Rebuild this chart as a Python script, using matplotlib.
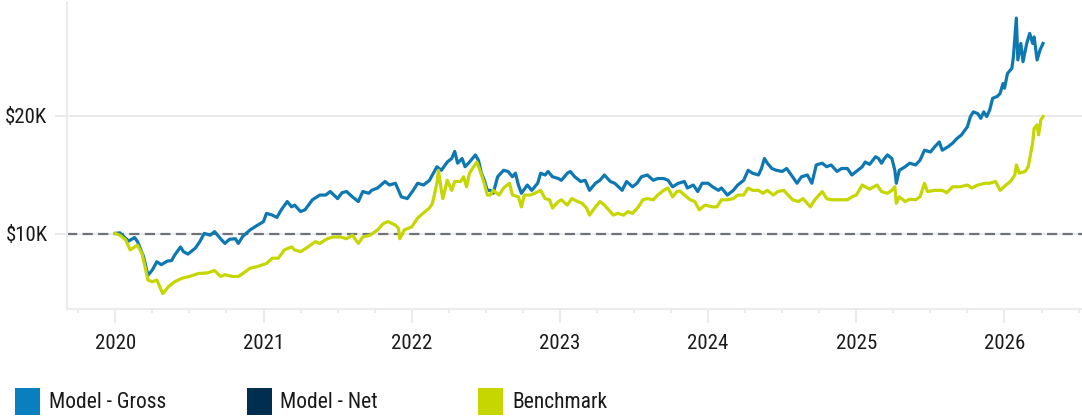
import matplotlib
matplotlib.use("Agg")
import matplotlib.pyplot as plt
from matplotlib.patches import Rectangle
import numpy as np

# ---------------- data (decimal year, value in $K) ----------------
gross_t = [2020.00, 2020.03, 2020.09, 2020.13, 2020.15, 2020.19, 2020.22, 2020.25, 2020.28, 2020.31,
           2020.35, 2020.38, 2020.40, 2020.44, 2020.46, 2020.49, 2020.54, 2020.57, 2020.60, 2020.64,
           2020.67, 2020.71, 2020.74, 2020.77, 2020.81, 2020.83, 2020.86, 2020.91, 2020.96, 2021.00,
           2021.02, 2021.06, 2021.09, 2021.12, 2021.16, 2021.19, 2021.21, 2021.25, 2021.28, 2021.33,
           2021.38, 2021.42, 2021.45, 2021.50, 2021.53, 2021.56, 2021.60, 2021.64, 2021.67, 2021.71,
           2021.73, 2021.77, 2021.82, 2021.85, 2021.89, 2021.93, 2021.97, 2022.01, 2022.04, 2022.08,
           2022.12, 2022.17, 2022.20, 2022.24, 2022.27, 2022.29, 2022.31, 2022.34, 2022.36, 2022.39,
           2022.43, 2022.45, 2022.47, 2022.49, 2022.51, 2022.53, 2022.55, 2022.58, 2022.62, 2022.65,
           2022.68, 2022.70, 2022.72, 2022.74, 2022.78, 2022.81, 2022.85, 2022.87, 2022.90, 2022.92,
           2022.95, 2022.99, 2023.01, 2023.05, 2023.07, 2023.10, 2023.14, 2023.17, 2023.20, 2023.24,
           2023.27, 2023.30, 2023.34, 2023.37, 2023.42, 2023.45, 2023.49, 2023.52, 2023.55, 2023.59,
           2023.63, 2023.66, 2023.70, 2023.73, 2023.76, 2023.80, 2023.84, 2023.86, 2023.90, 2023.93,
           2023.96, 2024.00, 2024.03, 2024.07, 2024.09, 2024.13, 2024.17, 2024.20, 2024.24, 2024.27,
           2024.30, 2024.34, 2024.36, 2024.38, 2024.40, 2024.43, 2024.46, 2024.50, 2024.53, 2024.57,
           2024.60, 2024.63, 2024.67, 2024.70, 2024.73, 2024.77, 2024.80, 2024.83, 2024.87, 2024.90,
           2024.94, 2024.97, 2025.00, 2025.04, 2025.06, 2025.09, 2025.13, 2025.15, 2025.17, 2025.19,
           2025.21, 2025.24, 2025.26, 2025.27, 2025.29, 2025.33, 2025.36, 2025.40, 2025.43, 2025.46,
           2025.50, 2025.53, 2025.56, 2025.58, 2025.62, 2025.65, 2025.68, 2025.71, 2025.75, 2025.77,
           2025.79, 2025.82, 2025.84, 2025.86, 2025.88, 2025.90, 2025.92, 2025.95, 2025.97, 2025.99,
           2026.00, 2026.02, 2026.05, 2026.06, 2026.08, 2026.09, 2026.11, 2026.125, 2026.15, 2026.17,
           2026.19, 2026.20, 2026.22, 2026.24, 2026.26]
gross_v = [10.05, 10.1, 9.4, 9.7, 9.35, 8.1, 6.5, 6.95, 7.65, 7.4,
           7.7, 7.75, 8.2, 8.9, 8.5, 8.3, 8.8, 9.35, 10.05, 9.9,
           10.2, 9.6, 9.2, 9.55, 9.6, 9.2, 9.8, 10.35, 10.75, 11.05,
           11.75, 11.6, 11.4, 12.05, 12.75, 12.3, 12.45, 11.9, 12.05, 12.9,
           13.3, 13.3, 13.6, 13.0, 13.5, 13.6, 13.15, 12.75, 13.6, 13.45,
           13.7, 13.9, 14.45, 14.15, 14.3, 13.15, 13.0, 13.7, 14.3, 14.15,
           14.55, 15.7, 15.4, 16.1, 16.4, 17.0, 16.0, 16.4, 15.7, 16.1,
           16.7, 16.25, 15.15, 14.55, 13.7, 13.7, 13.45, 14.85, 15.4, 15.3,
           14.85, 15.15, 14.15, 13.45, 14.15, 13.7, 14.3, 15.15, 15.0, 15.3,
           14.85, 14.7, 14.55, 15.15, 15.3, 14.85, 14.45, 14.55, 13.7, 14.3,
           14.55, 15.0, 14.45, 14.3, 13.7, 14.45, 14.0, 14.3, 14.85, 15.0,
           14.55, 14.7, 14.7, 14.55, 14.0, 14.3, 14.45, 13.9, 14.15, 13.6,
           14.3, 14.3, 14.0, 13.7, 13.9, 13.3, 13.7, 14.15, 14.55, 15.4,
           15.15, 15.0, 15.55, 16.4, 16.0, 15.55, 15.4, 15.3, 15.55, 14.85,
           14.3, 14.85, 15.0, 14.3, 15.85, 16.0, 15.7, 15.85, 15.3, 15.55,
           15.55, 15.0, 15.3, 15.7, 16.1, 15.9, 16.55, 16.4, 16.0, 16.4,
           16.7, 16.4, 15.4, 14.3, 15.4, 15.7, 16.0, 15.85, 16.25, 17.1,
           16.95, 17.4, 17.8, 17.1, 17.4, 17.7, 18.1, 18.4, 19.1, 19.95,
           20.35, 20.2, 19.8, 20.35, 19.95, 20.5, 21.5, 21.65, 21.9, 22.75,
           22.35, 23.6, 24.05, 25.0, 28.3, 24.75, 26.15, 24.6, 26.15, 27.0,
           26.15, 26.7, 24.75, 25.6, 26.15]

bench_t = [2020.00, 2020.03, 2020.07, 2020.10, 2020.13, 2020.15, 2020.18, 2020.20, 2020.22, 2020.25,
           2020.28, 2020.31, 2020.32, 2020.36, 2020.40, 2020.45, 2020.50, 2020.56, 2020.62, 2020.67,
           2020.71, 2020.74, 2020.79, 2020.83, 2020.86, 2020.91, 2020.96, 2021.02, 2021.06, 2021.10,
           2021.14, 2021.19, 2021.21, 2021.25, 2021.30, 2021.35, 2021.38, 2021.43, 2021.47, 2021.52,
           2021.56, 2021.60, 2021.64, 2021.67, 2021.72, 2021.77, 2021.81, 2021.84, 2021.89, 2021.91,
           2021.92, 2021.95, 2022.00, 2022.04, 2022.09, 2022.12, 2022.14, 2022.17, 2022.18, 2022.20,
           2022.21, 2022.24, 2022.27, 2022.29, 2022.33, 2022.35, 2022.37, 2022.39, 2022.41, 2022.44,
           2022.46, 2022.49, 2022.51, 2022.53, 2022.55, 2022.59, 2022.62, 2022.66, 2022.68, 2022.72,
           2022.74, 2022.76, 2022.80, 2022.83, 2022.87, 2022.90, 2022.93, 2022.95, 2022.99, 2023.01,
           2023.05, 2023.08, 2023.12, 2023.15, 2023.18, 2023.20, 2023.24, 2023.27, 2023.30, 2023.34,
           2023.36, 2023.39, 2023.43, 2023.46, 2023.49, 2023.53, 2023.56, 2023.59, 2023.63, 2023.66,
           2023.70, 2023.73, 2023.76, 2023.79, 2023.81, 2023.84, 2023.88, 2023.91, 2023.94, 2023.98,
           2024.03, 2024.06, 2024.09, 2024.13, 2024.17, 2024.20, 2024.24, 2024.27, 2024.30, 2024.34,
           2024.37, 2024.40, 2024.44, 2024.47, 2024.51, 2024.54, 2024.57, 2024.61, 2024.64, 2024.69,
           2024.72, 2024.77, 2024.80, 2024.83, 2024.87, 2024.90, 2024.94, 2024.97, 2025.00, 2025.04,
           2025.06, 2025.09, 2025.14, 2025.17, 2025.21, 2025.24, 2025.26, 2025.27, 2025.29, 2025.33,
           2025.36, 2025.40, 2025.43, 2025.46, 2025.48, 2025.53, 2025.58, 2025.61, 2025.65, 2025.70,
           2025.75, 2025.78, 2025.82, 2025.87, 2025.90, 2025.94, 2025.97, 2026.01, 2026.04, 2026.07,
           2026.08, 2026.10, 2026.14, 2026.16, 2026.19, 2026.20, 2026.22, 2026.23, 2026.245, 2026.26]
bench_v = [10.05, 9.9, 9.5, 8.65, 8.9, 9.05, 8.35, 7.25, 6.1, 5.95,
           6.1, 5.25, 4.95, 5.55, 5.95, 6.25, 6.4, 6.65, 6.7, 6.9,
           6.4, 6.55, 6.4, 6.4, 6.65, 7.1, 7.25, 7.5, 7.95, 7.95,
           8.65, 8.9, 8.65, 8.5, 8.9, 9.35, 9.2, 9.6, 9.75, 9.75,
           9.6, 9.9, 9.2, 9.75, 9.9, 10.35, 10.9, 11.05, 10.75, 10.5,
           9.6, 10.35, 10.6, 11.35, 11.9, 12.2, 12.6, 14.3, 15.4, 13.7,
           13.0, 14.55, 13.7, 14.45, 14.45, 14.85, 14.0, 15.15, 15.55, 16.1,
           15.4, 14.3, 13.3, 13.3, 13.7, 13.3, 13.9, 14.3, 13.3, 13.15,
           12.3, 13.3, 13.3, 13.45, 13.7, 13.0, 12.9, 12.2, 12.75, 12.9,
           12.45, 13.0, 12.75, 12.6, 12.2, 11.6, 12.3, 12.75, 12.45, 11.9,
           11.6, 11.75, 11.6, 11.9, 11.75, 12.3, 12.9, 13.0, 12.9, 13.3,
           13.7, 13.9, 13.15, 13.6, 13.65, 13.3, 12.9, 12.75, 12.05, 12.45,
           12.3, 12.3, 12.9, 12.9, 13.0, 13.3, 13.3, 13.9, 13.7, 13.7,
           13.45, 13.7, 13.3, 13.6, 13.7, 13.3, 12.9, 12.75, 13.0, 12.3,
           12.9, 13.6, 13.0, 12.9, 12.9, 12.9, 12.9, 13.15, 13.3, 14.15,
           14.0, 13.8, 14.15, 13.6, 13.45, 13.7, 14.0, 12.6, 13.15, 12.75,
           12.95, 12.9, 13.15, 14.3, 13.6, 13.7, 13.7, 13.5, 14.0, 14.0,
           14.15, 13.9, 14.15, 14.3, 14.3, 14.45, 13.7, 14.15, 14.45, 15.0,
           15.85, 15.15, 15.3, 15.7, 17.7, 18.95, 19.25, 18.4, 19.65, 19.95]

start_value = 10000
year_ticks = [2020, 2021, 2022, 2023, 2024, 2025, 2026]
y_ticks = [10000, 20000]
y_tick_labels = ["$10K", "$20K"]
legend_labels = ["Model - Gross", "Model - Net", "Benchmark"]
legend_colors = ["#0a7fc0", "#002e4f", "#c5d600"]

# ---------------- figure ----------------
FONT = ["Roboto Condensed", "Liberation Sans Narrow", "DejaVu Sans"]
plt.rcParams["font.family"] = FONT

W, H = 1082, 416
fig = plt.figure(figsize=(W / 100, H / 100), dpi=100)
ax = fig.add_axes([67 / W, 1 - 309 / H, (W - 67) / W, (309 - 2) / H])

gross_line_color = "#0e78b2"
bench_line_color = "#c5d600"

ax.plot(gross_t, np.array(gross_v) * 1000, color=gross_line_color, lw=2.3, zorder=3,
        solid_joinstyle="round")
ax.plot(bench_t, np.array(bench_v) * 1000, color=bench_line_color, lw=2.3, zorder=4,
        solid_joinstyle="round")

ax.axhline(start_value, color="#6e737b", lw=1.6, dashes=(4.6, 2.4), zorder=2)

ax.set_xlim(2019.674, 2026.523)
ax.set_ylim(3644, 29660)

grid_c = "#ebebeb"
ax.set_yticks(y_ticks)
ax.set_yticklabels(y_tick_labels)
ax.yaxis.grid(True, color=grid_c, lw=1.5, zorder=0)
ax.set_xticks(year_ticks)
ax.set_xticklabels([str(y) for y in year_ticks])
minor = [y + q for y in range(2019, 2027) for q in (0.25, 0.5, 0.75)]
ax.set_xticks([m for m in minor if 2019.674 <= m <= 2026.523], minor=True)

ax.tick_params(axis="x", which="major", length=10, width=1.5, color=grid_c,
               labelsize=15, labelcolor="#1a1a1a", pad=8)
ax.tick_params(axis="x", which="minor", length=3, width=1.5, color=grid_c)
ax.tick_params(axis="y", which="major", length=9, width=1.5, color=grid_c,
               labelsize=15, labelcolor="#1a1a1a", pad=5)

for s in ("top", "right"):
    ax.spines[s].set_visible(False)
for s in ("left", "bottom"):
    ax.spines[s].set_color(grid_c)
    ax.spines[s].set_linewidth(1.5)

# ---------------- legend (manual, pixel placement) ----------------
for i, (lab, col) in enumerate(zip(legend_labels, legend_colors)):
    x0 = 15 + 231.5 * i
    fig.patches.append(Rectangle((x0 / W, 1 - 415 / H), 25 / W, 27 / H,
                                 transform=fig.transFigure, facecolor=col, edgecolor="none"))
    fig.text((x0 + 34) / W, 1 - 403 / H, lab, fontsize=15.5, color="#1a1a1a",
             va="center", ha="left")

fig.savefig("out.png", dpi=100)
